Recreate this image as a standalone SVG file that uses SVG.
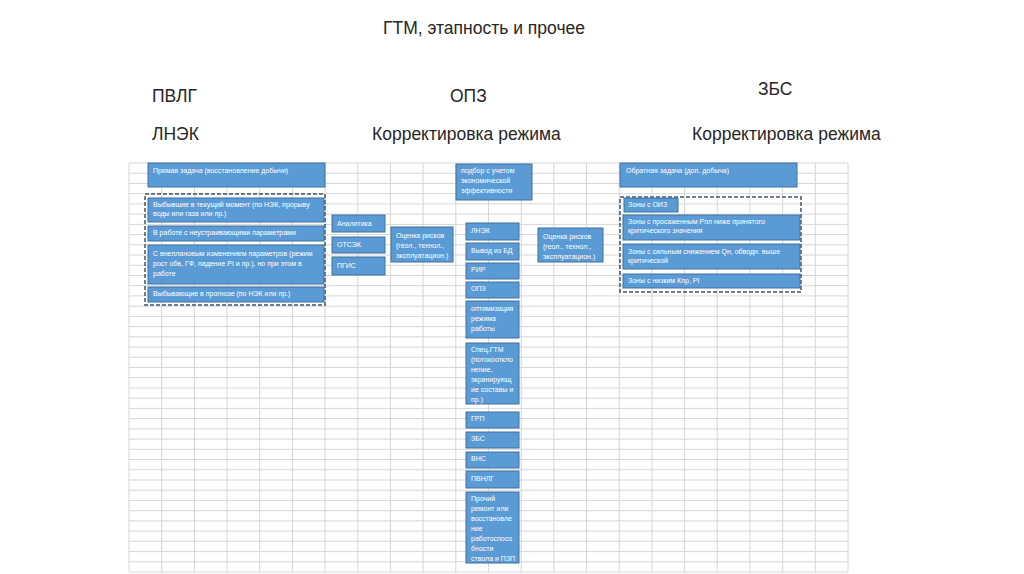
<svg xmlns="http://www.w3.org/2000/svg" width="1024" height="574" viewBox="0 0 1024 574">
<style>
.grid{stroke:#d6d6d6;stroke-width:1;fill:none}
.box{fill:#5b9bd5;stroke:#41719c;stroke-width:1}
.dash{fill:none;stroke:#44546a;stroke-width:1.5;stroke-dasharray:4 2}
.t{font-family:"Liberation Sans",Arial,sans-serif;font-size:7px;fill:#ffffff}
.h{font-family:"Liberation Sans",Arial,sans-serif;font-size:17.5px;fill:#262626}
</style>
<rect width="1024" height="574" fill="#ffffff"/>
<g id="grid">
<path class="grid" d="M129 163V572M161.7 163V572M194.4 163V572M227 163V572M259.7 163V572M292.4 163V572M325.1 163V572M357.8 163V572M390.4 163V572M423.1 163V572M455.8 163V572M488.5 163V572M521.2 163V572M553.8 163V572M586.5 163V572M619.2 163V572M651.9 163V572M684.6 163V572M717.2 163V572M749.9 163V572M782.6 163V572M815.3 163V572M848 163V572"/>
<path class="grid" d="M129 163H848M129 173.2H848M129 183.5H848M129 193.7H848M129 203.9H848M129 214.1H848M129 224.4H848M129 234.6H848M129 244.8H848M129 255H848M129 265.3H848M129 275.5H848M129 285.7H848M129 295.9H848M129 306.2H848M129 316.4H848M129 326.6H848M129 336.8H848M129 347.1H848M129 357.3H848M129 367.5H848M129 377.7H848M129 388H848M129 398.2H848M129 408.4H848M129 418.6H848M129 428.9H848M129 439.1H848M129 449.3H848M129 459.5H848M129 469.8H848M129 480H848M129 490.2H848M129 500.4H848M129 510.7H848M129 520.9H848M129 531.1H848M129 541.3H848M129 551.6H848M129 561.8H848M129 572H848"/>
</g>
<g id="titles">
<text class="h" x="383" y="34">ГТМ, этапность и прочее</text>
<text class="h" x="152" y="102">ПВЛГ</text>
<text class="h" x="450" y="102">ОПЗ</text>
<text class="h" x="758" y="95">ЗБС</text>
<text class="h" x="152" y="140">ЛНЭК</text>
<text class="h" x="372" y="140">Корректировка режима</text>
<text class="h" x="692" y="140">Корректировка режима</text>
</g>
<g id="groups">
<rect class="dash" x="145" y="194" width="180" height="111"/>
<rect class="dash" x="620" y="197" width="181" height="95"/>
</g>
<g id="connectors"/>
<g id="n-pryamaya"><rect class="box" x="148" y="163" width="177" height="24"/><text class="t" x="153" y="173">Прямая задача (восстановление добычи)</text></g>
<g id="n-vybyvshie"><rect class="box" x="148" y="198" width="176" height="24"/><text class="t" x="153" y="207">Выбывшие в текущий момент (по НЭК, прорыву</text><text class="t" x="153" y="216">воды или газа или пр.)</text></g>
<g id="n-vrabote"><rect class="box" x="148" y="226" width="176" height="15"/><text class="t" x="153" y="235">В работе с неустраивающими параметрами</text></g>
<g id="n-vneplan"><rect class="box" x="148" y="245" width="176" height="39"/><text class="t" x="153" y="256">С внеплановым изменением параметров (режим</text><text class="t" x="153" y="266">рост обв, ГФ, падение PI и пр.), но при этом в</text><text class="t" x="153" y="276">работе</text></g>
<g id="n-vybyvayushchie"><rect class="box" x="148" y="287" width="176" height="15"/><text class="t" x="153" y="296">Выбывающие в прогнозе (по НЭК или пр.)</text></g>
<g id="n-analitika"><rect class="box" x="332" y="215" width="53" height="17"/><text class="t" x="337" y="226">Аналитика</text></g>
<g id="n-otsek"><rect class="box" x="332" y="237" width="53" height="16"/><text class="t" x="337" y="247">ОТСЭК</text></g>
<g id="n-pgis"><rect class="box" x="332" y="257" width="53" height="18"/><text class="t" x="337" y="268">ПГИС</text></g>
<g id="n-otsenka1"><rect class="box" x="391" y="227" width="62" height="35"/><text class="t" x="396" y="238">Оценка рисков</text><text class="t" x="396" y="248">(геол., технол.,</text><text class="t" x="396" y="258">эксплуатацион.)</text></g>
<g id="n-podbor"><rect class="box" x="456" y="164" width="76" height="36"/><text class="t" x="461" y="173">подбор с учетом</text><text class="t" x="461" y="183">экономической</text><text class="t" x="461" y="193">эффективности</text></g>
<g id="n-lnek"><rect class="box" x="466" y="223" width="53" height="17"/><text class="t" x="471" y="233">ЛНЭК</text></g>
<g id="n-vyvod"><rect class="box" x="466" y="243" width="53" height="17"/><text class="t" x="471" y="253">Вывод из БД</text></g>
<g id="n-rir"><rect class="box" x="466" y="263" width="53" height="16"/><text class="t" x="471" y="272">РИР</text></g>
<g id="n-opz"><rect class="box" x="466" y="282" width="53" height="16"/><text class="t" x="471" y="291">ОПЗ</text></g>
<g id="n-optim"><rect class="box" x="466" y="301" width="53" height="37"/><text class="t" x="471" y="311">оптимизация</text><text class="t" x="471" y="321">режима</text><text class="t" x="471" y="331">работы</text></g>
<g id="n-spets"><rect class="box" x="466" y="343" width="53" height="61"/><text class="t" x="471" y="352">Спец.ГТМ</text><text class="t" x="471" y="362">(потокоотклo</text><text class="t" x="471" y="372">нение,</text><text class="t" x="471" y="382">экранирующ</text><text class="t" x="471" y="392">ие составы и</text><text class="t" x="471" y="402">пр.)</text></g>
<g id="n-grp"><rect class="box" x="466" y="412" width="53" height="16"/><text class="t" x="471" y="421">ГРП</text></g>
<g id="n-zbs"><rect class="box" x="466" y="432" width="53" height="16"/><text class="t" x="471" y="441">ЗБС</text></g>
<g id="n-vns"><rect class="box" x="466" y="452" width="53" height="16"/><text class="t" x="471" y="461">ВНС</text></g>
<g id="n-pvnlg"><rect class="box" x="466" y="471" width="53" height="17"/><text class="t" x="471" y="481">ПВНЛГ</text></g>
<g id="n-prochiy"><rect class="box" x="466" y="492" width="53" height="71"/><text class="t" x="471" y="501">Прочий</text><text class="t" x="471" y="511">ремонт или</text><text class="t" x="471" y="521">восстановле</text><text class="t" x="471" y="531">ние</text><text class="t" x="471" y="541">работоспосо</text><text class="t" x="471" y="551">бности</text><text class="t" x="471" y="561">ствола и ПЗП</text></g>
<g id="n-otsenka2"><rect class="box" x="538" y="228" width="65" height="34"/><text class="t" x="543" y="239">Оценка рисков</text><text class="t" x="543" y="249">(геол., технол.,</text><text class="t" x="543" y="259">эксплуатацион.)</text></g>
<g id="n-obratnaya"><rect class="box" x="620" y="163" width="177" height="24"/><text class="t" x="626" y="173">Обратная задача (доп. добыча)</text></g>
<g id="n-oiz"><rect class="box" x="624" y="198" width="54" height="14"/><text class="t" x="628" y="207">Зоны с  ОИЗ</text></g>
<g id="n-prosazh"><rect class="box" x="623" y="215" width="177" height="25"/><text class="t" x="628" y="224">Зоны с просаженным Рпл ниже принятого</text><text class="t" x="628" y="233">критического значения</text></g>
<g id="n-snizh"><rect class="box" x="623" y="244" width="177" height="25"/><text class="t" x="628" y="254">Зоны с сильным снижением Qн, обводн. выше</text><text class="t" x="628" y="263">критической</text></g>
<g id="n-nizkim"><rect class="box" x="623" y="274" width="177" height="14"/><text class="t" x="628" y="283">Зоны с низким Кпр, PI</text></g>
</svg>
